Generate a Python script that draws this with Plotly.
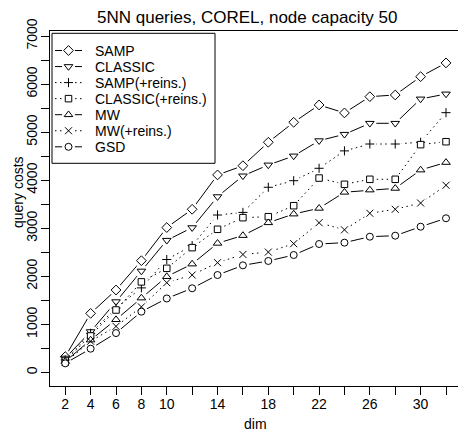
import plotly.graph_objects as go

# Query costs of 5NN queries on the COREL data set (node capacity 50)
dims = [2, 4, 6, 8, 10, 12, 14, 16, 18, 20, 22, 24, 26, 28, 30, 32]
dim_labels = ["2", "4", "6", "8", "10", "", "14", "", "18", "", "22", "", "26", "", "30", ""]

samp = [330, 1230, 1716, 2326, 3015, 3395, 4110, 4302, 4789, 5205, 5565, 5400, 5738, 5773, 6154, 6440]
classic = [300, 850, 1473, 2110, 2750, 3013, 3658, 4090, 4317, 4504, 4822, 4955, 5184, 5184, 5690, 5794]
samp_reins = [260, 815, 1340, 1760, 2350, 2640, 3276, 3330, 3853, 3990, 4248, 4610, 4753, 4753, 4790, 5405]
classic_reins = [240, 760, 1300, 1885, 2167, 2597, 2979, 3221, 3241, 3470, 4045, 3915, 4019, 4019, 4740, 4801]
mw = [230, 676, 1100, 1550, 1995, 2257, 2688, 2850, 3116, 3297, 3416, 3750, 3797, 3831, 4213, 4370]
mw_reins = [210, 650, 960, 1365, 1868, 2028, 2285, 2455, 2505, 2680, 3116, 2968, 3312, 3395, 3525, 3895]
gsd = [190, 495, 820, 1265, 1540, 1752, 2028, 2229, 2320, 2444, 2673, 2701, 2825, 2846, 3033, 3208]

y_ticks = list(range(0, 7001, 500))
y_labels = [str(v) if v % 1000 == 0 else "" for v in y_ticks]

series = [
    ("SAMP", samp, "diamond", 7.5, "solid"),
    ("CLASSIC", classic, "triangle-down", 7.5, "solid"),
    ("SAMP(+reins.)", samp_reins, "cross-thin", 6.5, "1.5px,3.5px"),
    ("CLASSIC(+reins.)", classic_reins, "square", 6.5, "1.5px,3.5px"),
    ("MW", mw, "triangle-up", 7.5, "solid"),
    ("MW(+reins.)", mw_reins, "x-thin", 7, "1.5px,3.5px"),
    ("GSD", gsd, "circle", 7, "solid"),
]

# plot frame in pixels
W, H = 458, 433
L, R, T, B = 50, 458, 31, 386
FONT = "Liberation Sans, Arial, sans-serif"
HALO = 13


def px(x):
    return (x - L) / (R - L)


def py(y):
    return (B - y) / (B - T)


def marker_style(sym, size):
    return dict(symbol=sym, size=size, color="white",
                line=dict(color="black", width=1))


fig = go.Figure()

# connecting lines, each followed by a white halo that opens gaps at its points
for name, vals, sym, size, dash in series:
    fig.add_trace(go.Scatter(x=dims, y=vals, mode="lines", showlegend=False,
                             line=dict(color="black", width=1, dash=dash),
                             hoverinfo="skip"))
    fig.add_trace(go.Scatter(x=dims, y=vals, mode="markers", showlegend=False,
                             marker=dict(symbol="circle", size=HALO, color="white",
                                         line=dict(width=0)),
                             hoverinfo="skip"))

# point symbols on top
for name, vals, sym, size, dash in series:
    fig.add_trace(go.Scatter(x=dims, y=vals, mode="markers", name=name,
                             showlegend=False, marker=marker_style(sym, size)))

# legend drawn on a pixel-based overlay axis
LEG_X0, LEG_X1, LEG_Y0, LEG_Y1 = 52, 215, 33.3, 163.3
ROW0, ROW_STEP = 50.5, 16.05
SYM_X0, SYM_X1, TXT_X = 55, 82, 93

shapes = [dict(type="rect", xref="x2", yref="y2", x0=LEG_X0, x1=LEG_X1,
               y0=LEG_Y0, y1=LEG_Y1, line=dict(color="black", width=1),
               fillcolor="white", layer="below")]
annotations = []
for i, (name, vals, sym, size, dash) in enumerate(series):
    ry = ROW0 + i * ROW_STEP
    cx = (SYM_X0 + SYM_X1) / 2
    fig.add_trace(go.Scatter(x=[SYM_X0, SYM_X1], y=[ry, ry], xaxis="x2", yaxis="y2",
                             mode="lines", showlegend=False, hoverinfo="skip",
                             line=dict(color="black", width=1, dash=dash)))
    fig.add_trace(go.Scatter(x=[cx], y=[ry], xaxis="x2", yaxis="y2",
                             mode="markers", showlegend=False, hoverinfo="skip",
                             marker=dict(symbol="circle", size=HALO, color="white",
                                         line=dict(width=0))))
    fig.add_trace(go.Scatter(x=[cx], y=[ry], xaxis="x2", yaxis="y2",
                             mode="markers", showlegend=False, hoverinfo="skip",
                             marker=marker_style(sym, size)))
    annotations.append(dict(xref="x2", yref="y2", x=TXT_X, y=ry, text=name,
                            showarrow=False, xanchor="left", yanchor="middle",
                            font=dict(family=FONT, size=14, color="black")))

# title and axis titles
annotations += [
    dict(xref="paper", yref="paper", x=px(247), y=py(17), text="5NN queries, COREL, node capacity 50",
         showarrow=False, xanchor="center", yanchor="middle",
         font=dict(family=FONT, size=17, color="black")),
    dict(xref="paper", yref="paper", x=px(255.5), y=py(424), text="dim",
         showarrow=False, xanchor="center", yanchor="middle",
         font=dict(family=FONT, size=14, color="black")),
    dict(xref="paper", yref="paper", x=px(18), y=py(192), text="query costs",
         showarrow=False, xanchor="center", yanchor="middle", textangle=-90,
         font=dict(family=FONT, size=14, color="black")),
]

axis_common = dict(showgrid=False, zeroline=False, ticks="outside", ticklen=8,
                   tickcolor="black", tickwidth=1, showline=True, linecolor="black",
                   linewidth=1, tickfont=dict(family=FONT, size=14, color="black"))

fig.update_layout(
    width=W, height=H,
    margin=dict(l=L, r=W - R, t=T, b=H - B, pad=0),
    paper_bgcolor="white", plot_bgcolor="white",
    xaxis=dict(range=[0.8, 32 + (R - 446) / 12.69], tickmode="array",
               tickvals=dims, ticktext=dim_labels, mirror=True,
               ticklabelstandoff=-3, **axis_common),
    yaxis=dict(range=[-281, 7104], tickmode="array", tickvals=y_ticks,
               ticktext=y_labels, tickangle=-90, mirror=False,
               ticklabelstandoff=-2, **axis_common),
    xaxis2=dict(range=[L, R], overlaying="x", visible=False, fixedrange=True),
    yaxis2=dict(range=[B, T], overlaying="y", visible=False, fixedrange=True),
    shapes=shapes,
    annotations=annotations,
    showlegend=False,
)

fig.write_html("out.html", config={"displayModeBar": False})
